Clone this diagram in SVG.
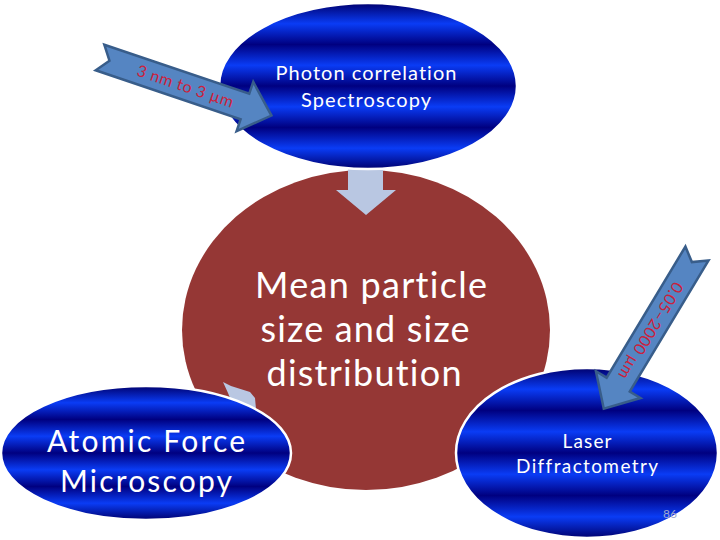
<svg xmlns="http://www.w3.org/2000/svg" width="720" height="540" viewBox="0 0 720 540">
<defs>
<linearGradient id="blueBands" x1="0" y1="0" x2="0" y2="1">
<stop offset="0" stop-color="#00006e"/>
<stop offset="0.125" stop-color="#0a3cf5"/>
<stop offset="0.25" stop-color="#000080"/>
<stop offset="0.375" stop-color="#0a3cf5"/>
<stop offset="0.5" stop-color="#000080"/>
<stop offset="0.625" stop-color="#0a3cf5"/>
<stop offset="0.75" stop-color="#000080"/>
<stop offset="0.875" stop-color="#0a3cf5"/>
<stop offset="1" stop-color="#00006e"/>
</linearGradient>
<polygon id="callout" points="0,-13.5 153,-13.5 153,-26 181,0 153,26 153,13.5 0,13.5 10,0"/>
</defs>
<style>
.outer{fill:url(#blueBands);stroke:#ffffff;stroke-width:2.5}
.wt{fill:#ffffff;font-family:Lato,"Liberation Sans",sans-serif;text-anchor:middle;font-variant-ligatures:none}
.conn{fill:#b9c7e2;stroke:none}
.call{fill:#5585c2;stroke:#385d8a;stroke-width:2.5;stroke-linejoin:miter}
.ct{fill:#cc1f3c;font-family:Lato,"Liberation Sans",sans-serif;font-size:16px;text-anchor:middle;font-variant-ligatures:none}
</style>
<rect x="0" y="0" width="720" height="540" fill="#ffffff"/>
<g id="center">
<ellipse cx="366" cy="330" rx="184" ry="160" fill="#953735"/>
<text class="wt" font-size="36" x="371" y="298" textLength="232" lengthAdjust="spacing">Mean particle</text>
<text class="wt" font-size="36" x="365" y="342" textLength="209" lengthAdjust="spacing">size and size</text>
<text class="wt" font-size="36" x="364" y="386" textLength="195" lengthAdjust="spacing">distribution</text>
</g>
<g id="connectors">
<polygon class="conn" points="348,150 383,150 383,190 396,190 366,215 336,190 348,190"/>
<polygon class="conn" points="223,382 231,386 250,392 255,398 257,420 235,410 228,393"/>
</g>
<g id="photon">
<ellipse class="outer" cx="368" cy="86" rx="149" ry="83"/>
<text class="wt" font-size="20" x="366" y="80" textLength="181" lengthAdjust="spacing">Photon correlation</text>
<text class="wt" font-size="20" x="366" y="107" textLength="130" lengthAdjust="spacing">Spectroscopy</text>
</g>
<g id="afm">
<ellipse class="outer" cx="146" cy="453" rx="145" ry="67"/>
<text class="wt" font-size="30" x="146" y="452" textLength="198" lengthAdjust="spacing">Atomic Force</text>
<text class="wt" font-size="30" x="146" y="492" textLength="172" lengthAdjust="spacing">Microscopy</text>
</g>
<g id="laser">
<ellipse class="outer" cx="587" cy="453" rx="131" ry="85"/>
<text class="wt" font-size="19" x="587" y="448" textLength="49" lengthAdjust="spacing">Laser</text>
<text class="wt" font-size="19" x="587" y="473" textLength="142" lengthAdjust="spacing">Diffractometry</text>
<text x="670" y="518" font-family="Lato,'Liberation Sans',sans-serif" font-size="12" fill="#a0a8cc" text-anchor="middle">86</text>
</g>
<g id="range-pcs" transform="translate(100,57.5) rotate(18.7)">
<use href="#callout" class="call"/>
<text class="ct" x="90" y="5.5" textLength="101" lengthAdjust="spacing">3 nm to 3 µm</text>
</g>
<g id="range-laser" transform="translate(697,253.5) rotate(121)">
<use href="#callout" class="call"/>
<text class="ct" x="90" y="5.5" textLength="110" lengthAdjust="spacing">0.05–2000 µm</text>
</g>
</svg>
